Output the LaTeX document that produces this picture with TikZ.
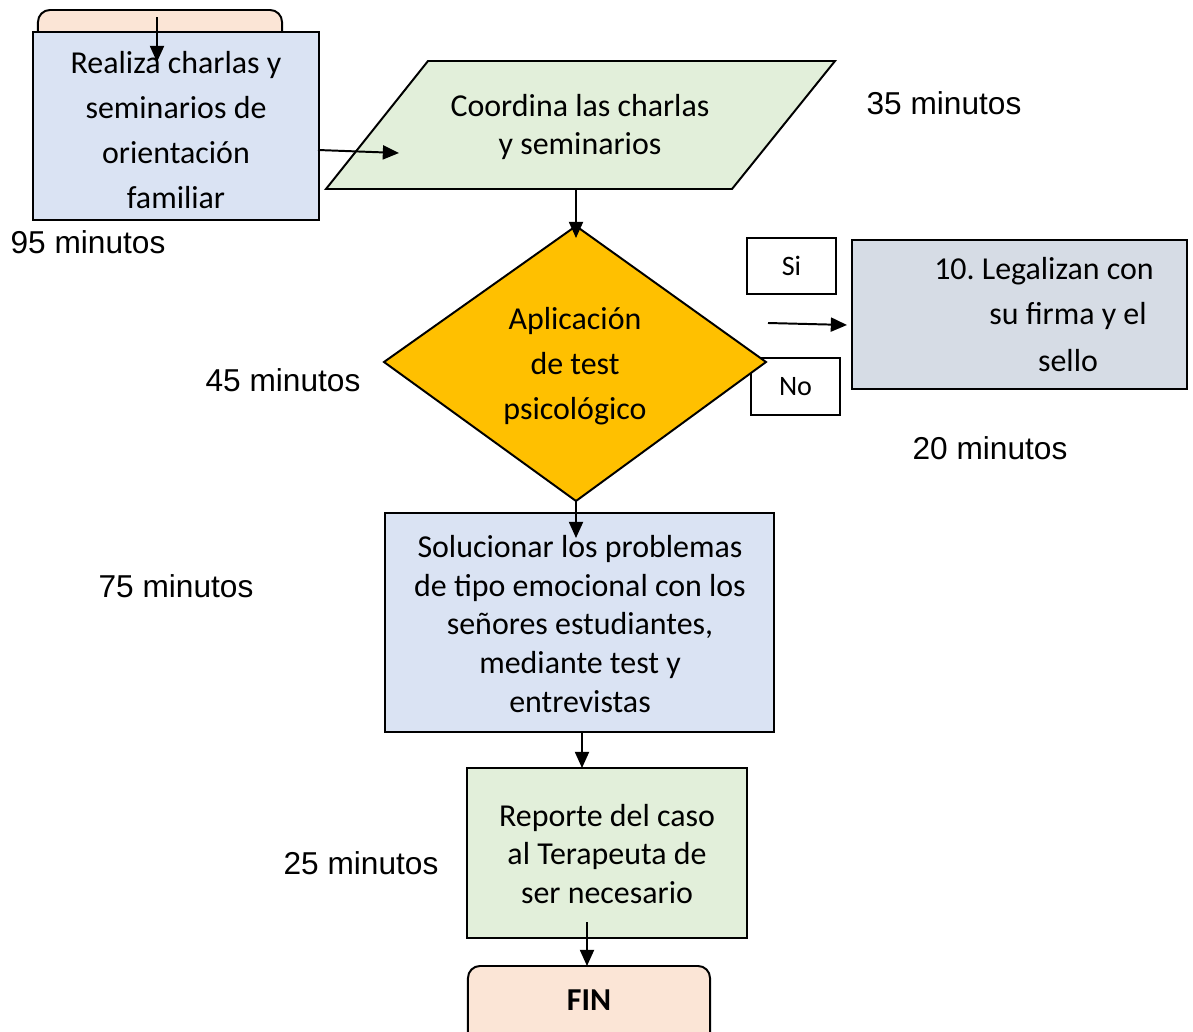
\documentclass[tikz,border=0pt]{standalone}
\usepackage{fontspec}
\setmainfont{Carlito}
\newfontfamily\arialf{Liberation Sans}
\usetikzlibrary{arrows.meta}

\definecolor{pinkfill}{HTML}{FBE5D6}
\definecolor{bluefill}{HTML}{DAE3F3}
\definecolor{greenfill}{HTML}{E2EFDA}
\definecolor{yellowfill}{HTML}{FFC000}
\definecolor{grayfill}{HTML}{D6DCE5}

\begin{document}
\begin{tikzpicture}[x=0.025cm,y=-0.025cm,
  outline/.style={draw=black, line width=1.4pt},
  procbox/.style={outline, rectangle, inner sep=0pt},
  endbox/.style={outline, rectangle, rounded corners=0.3cm, inner sep=0pt},
  txt/.style={align=center, inner sep=0pt, font=\fontsize{22.7}{27.7}\selectfont},
  txtwide/.style={align=center, inner sep=0pt, font=\fontsize{22.7}{32}\selectfont},
  tag/.style={procbox, fill=white, minimum width=2.22cm, minimum height=1.42cm,
    font=\fontsize{20}{24}\selectfont},
  timelbl/.style={inner sep=0pt, font=\arialf\fontsize{22.5}{27}\selectfont},
  flow/.style={line width=1.4pt, -{Triangle[length=11.5pt,width=10pt]}}
]
\useasboundingbox (0,0) rectangle (1193,1032);

% start terminal, partly hidden by the first process box
\node[endbox, fill=pinkfill, minimum width=6.1cm, minimum height=1.4cm] (inicio) at (160,38) {};

% first process
\node[procbox, fill=bluefill, minimum width=7.15cm, minimum height=4.7cm] (realiza) at (176,126) {};
\node[txtwide] (realizaT) at (176,130) {Realiza charlas y\\seminarios de\\orientación\\familiar};

% input/output parallelogram
\path[outline, fill=greenfill] (428,61) -- (835,61) -- (732,189) -- (326,189) -- cycle;
\node[txt] (coordina) at (580,127) {Coordina las charlas\\y seminarios};

% answer tags
\node[tag] (si) at (791.5,266) {Si};
\node[tag] (no) at (795.5,386.5) {No};

% decision
\path[outline, fill=yellowfill] (576,226) -- (766,362) -- (576,501) -- (384,362) -- cycle;
\node[txtwide] (aplica) at (575,366) {Aplicación\\de test\\psicológico};

% legalisation box
\node[procbox, fill=grayfill, minimum width=8.375cm, minimum height=3.725cm] (legal) at (1019.5,314.5) {};
\node[txt] (leg1) at (1044,271) {10.\ Legalizan con};
\node[txt] (leg2) at (1068,316) {su firma y el};
\node[txt] (leg3) at (1068,361) {sello};

% emotional problems
\node[procbox, fill=bluefill, minimum width=9.725cm, minimum height=5.475cm] (soluc) at (579.5,622.5) {};
\node[txt] (solucT) at (580,624) {Solucionar los problemas\\de tipo emocional con los\\señores estudiantes,\\mediante test y\\entrevistas};

% report
\node[procbox, fill=greenfill, minimum width=7cm, minimum height=4.25cm] (reporte) at (607,853) {};
\node[txt] (reporteT) at (607,854) {Reporte del caso\\al Terapeuta de\\ser necesario};

% end terminal
\node[endbox, fill=pinkfill, minimum width=6.05cm, minimum height=2.3cm] (fin) at (589,1012) {};
\node[txt, font=\bfseries\fontsize{22.7}{27.7}\selectfont] (finT) at (589,1000) {FIN};

% durations
\node[timelbl] (t95) at (88,242) {95 minutos};
\node[timelbl] (t35) at (944,103) {35 minutos};
\node[timelbl] (t45) at (283,380) {45 minutos};
\node[timelbl] (t20) at (990,448) {20 minutos};
\node[timelbl] (t75) at (176,586) {75 minutos};
\node[timelbl] (t25) at (361,863) {25 minutos};

% connector end points
\coordinate (a1s) at (157,17);   \coordinate (a1e) at (157,62);
\coordinate (a2s) at (318,150);  \coordinate (a2e) at (399,153);
\coordinate (a3s) at (576,189);  \coordinate (a3e) at (576,238);
\coordinate (a4s) at (768,323);  \coordinate (a4e) at (847,325);
\coordinate (a5s) at (576,501);  \coordinate (a5e) at (576,538);
\coordinate (a6s) at (582,732);  \coordinate (a6e) at (582,768);
\coordinate (a7s) at (587,922);  \coordinate (a7e) at (587,966);

\draw[flow] (a1s) -- (a1e);
\draw[flow] (a2s) -- (a2e);
\draw[flow] (a3s) -- (a3e);
\draw[flow] (a4s) -- (a4e);
\draw[flow] (a5s) -- (a5e);
\draw[flow] (a6s) -- (a6e);
\draw[flow] (a7s) -- (a7e);
\end{tikzpicture}
\end{document}
